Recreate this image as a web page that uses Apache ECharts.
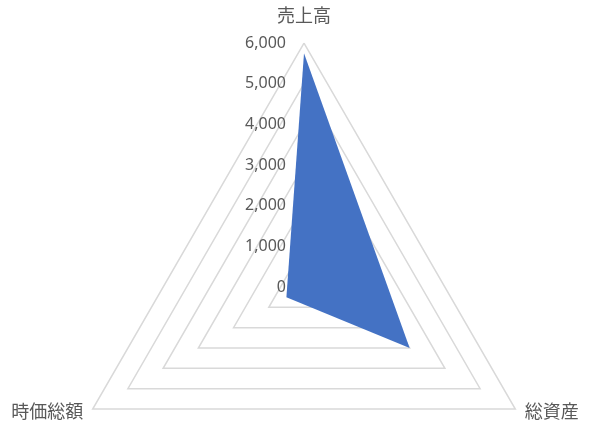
<!DOCTYPE html>
<html>
<head>
<meta charset="utf-8">
<script src="https://cdn.jsdelivr.net/npm/echarts@6/dist/echarts.min.js"></script>
<style>
  html, body { margin: 0; padding: 0; background: #fff; }
  #chart { width: 600px; height: 427px; }
</style>
</head>
<body>
<div id="chart"></div>
<script>
// indicators in drawing order (top, bottom-left, bottom-right)
var indicatorNames = ['売上高', '時価総額', '総資産'];
var values = [5750, 500, 3000];
var axisMax = 6000;

var font = '"Noto Sans CJK JP", "Noto Sans", sans-serif';

var indicators = indicatorNames.map(function (n, i) {
    var ind = { name: n, min: 0, max: axisMax };
    if (i === 0) {
        // only the top axis carries the value labels
        ind.axisLabel = {
            show: true,
            color: '#595959',
            fontSize: 16,
            fontFamily: '"Noto Sans", sans-serif',
            margin: 18,
            padding: [4, 0, 0, 0],
            formatter: function (v) { return v.toLocaleString('en-US'); }
        };
    }
    return ind;
});

var chart = echarts.init(document.getElementById('chart'));
chart.setOption({
    animation: false,
    radar: {
        center: [304, 287],
        radius: 244,
        shape: 'polygon',
        startAngle: 90,
        splitNumber: 6,
        indicator: indicators,
        axisName: {
            color: '#595959',
            fontSize: 18,
            fontFamily: font,
            formatter: function (name) {
                return name === indicatorNames[0] ? '{t|' + name + '}' : '{b|' + name + '}';
            },
            rich: {
                t: { fontSize: 18, fontFamily: font, color: '#595959', padding: [0, 0, 8, 0] },
                b: { fontSize: 18, fontFamily: font, color: '#595959', padding: [0, 0, 6, 0] }
            }
        },
        nameGap: 11,
        axisLine: { show: false },
        axisTick: { show: false },
        axisLabel: { show: false },
        splitArea: { show: false },
        splitLine: { lineStyle: { color: '#d9d9d9', width: 1.5 } }
    },
    series: [{
        type: 'radar',
        symbol: 'none',
        lineStyle: { width: 0 },
        areaStyle: { color: '#4472c4', opacity: 1 },
        data: [{ value: values }]
    }]
});
</script>
</body>
</html>
